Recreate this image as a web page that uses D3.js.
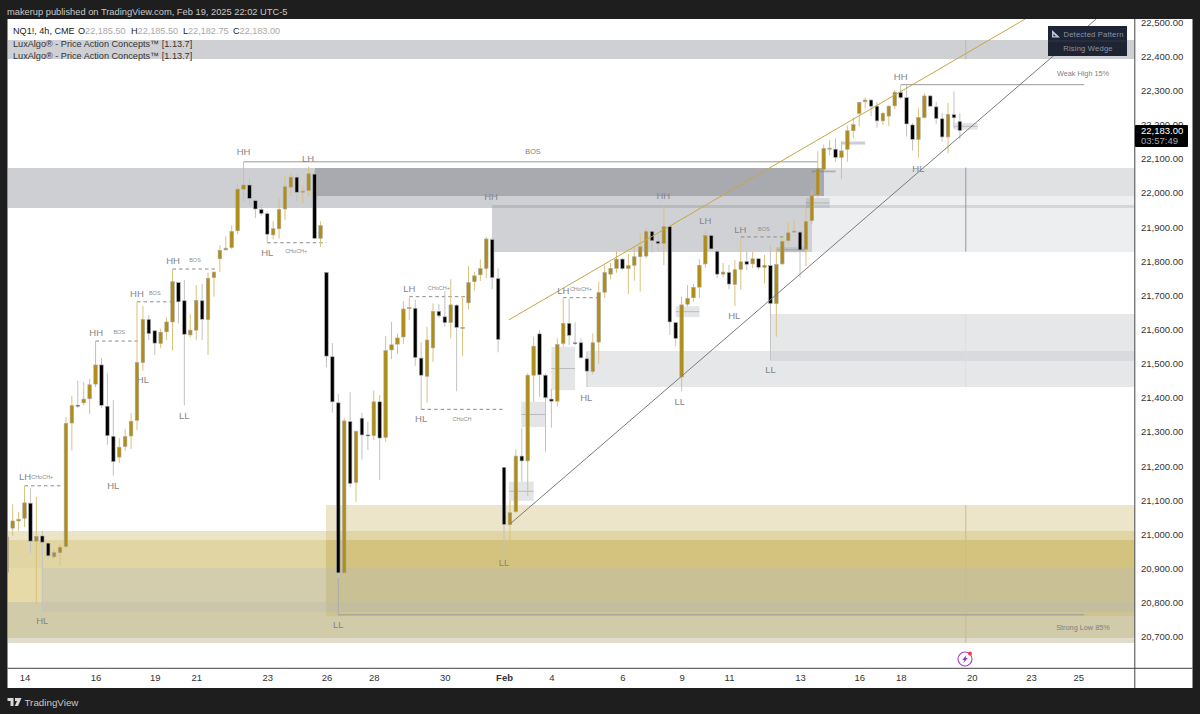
<!DOCTYPE html>
<html>
<head>
<meta charset="utf-8">
<style>
  html, body { margin: 0; padding: 0; background: #1e1e1e; }
  svg { display: block; font-family: "Liberation Sans", Arial, sans-serif; }
</style>
</head>
<body>
<div id="chart"></div>
<script src="https://cdn.jsdelivr.net/npm/d3@7"></script>
<script>
"use strict";

const WIDTH = 1200;
const HEIGHT = 714;
const PLOT_LEFT = 8;
const PLOT_RIGHT = 1134.5;
const PLOT_TOP = 19;
const PLOT_BOTTOM = 668;
const FRAME_RIGHT = 1192.5;
const FRAME_BOTTOM = 688;

// 4h candles
const opens = [
    20889,21018,21039,21047,21091,20980,20995,20974,20934,20946,
    20964,21326,21378,21385,21397,21440,21496,21375,21287,21226,
    21257,21288,21334,21503,21629,21596,21559,21593,21622,21737,
    21684,21584,21598,21684,21629,21752,21807,21833,21840,21889,
    22011,22023,21977,21951,21939,21877,21895,21953,22017,22046,
    22002,22007,22055,21867,21767,21520,21385,20887,21330,21152,
    21340,21291,21289,21388,21284,21540,21557,21578,21662,21662,
    21516,21463,21546,21653,21637,21620,21671,21604,21678,21740,
    21760,21779,21863,21749,21196,21028,21066,21229,21215,21466,
    21587,21466,21396,21390,21559,21618,21561,21561,21514,21477,
    21563,21709,21762,21779,21806,21778,21788,21813,21815,21887,
    21858,21852,21901,21620,21461,21674,21693,21724,21792,21875,
    21829,21762,21767,21732,21776,21799,21792,21807,21782,21787,
    21676,21792,21860,21885,21885,21835,21919,21994,22069,22129,
    22128,22104,22128,22182,22233,22267,22272,22254,22211,22225,
    22255,22294,22279,22199,22157,22221,22284,22252,22217,22164,
    22229,22209
];
const highs = [
    21013,21088,21065,21141,21135,21110,21010,20975,20954,20971,
    21343,21406,21450,21446,21455,21566,21517,21473,21393,21282,
    21308,21355,21681,21669,21642,21598,21602,21636,21777,21740,
    21745,21645,21730,21733,21767,21770,21847,21873,21905,22026,
    22091,22043,21982,21966,21945,21917,21983,22049,22056,22056,
    22021,22077,22067,21916,21768,21560,21411,21340,21416,21305,
    21356,21330,21421,21408,21581,21622,21588,21683,21693,21688,
    21563,21608,21676,21674,21713,21747,21674,21698,21786,21769,
    21805,21871,21871,21779,21197,21099,21249,21311,21472,21579,
    21598,21472,21426,21574,21691,21691,21621,21574,21535,21588,
    21740,21789,21795,21831,21810,21821,21842,21880,21896,21889,
    21876,21964,21903,21622,21696,21730,21733,21806,21889,21876,
    21832,21795,21789,21803,21867,21828,21828,21808,21818,21847,
    21842,21870,21913,21923,21889,21955,22008,22122,22142,22155,
    22160,22151,22197,22221,22267,22280,22274,22267,22238,22257,
    22301,22316,22316,22205,22248,22292,22287,22267,22233,22264,
    22297,22233
];
const lows = [
    20866,20996,21010,21021,20945,20791,20773,20930,20927,20908,
    20960,21245,21370,21378,21352,21431,21370,21262,21172,21209,
    21245,21250,21305,21479,21569,21525,21545,21569,21538,21618,
    21378,21577,21569,21569,21525,21696,21768,21834,21836,21879,
    21974,21964,21926,21933,21854,21864,21866,21920,21992,21974,
    21969,21989,21865,21842,21489,21356,20872,20876,21138,21095,
    21219,21247,21276,21159,21271,21513,21528,21557,21627,21493,
    21366,21385,21505,21633,21608,21574,21419,21522,21659,21713,
    21742,21750,21718,21533,20944,20978,21063,21154,21112,21388,
    21403,21242,21312,21374,21549,21554,21554,21515,21431,21469,
    21499,21692,21748,21766,21774,21704,21743,21711,21808,21825,
    21830,21789,21584,21551,21418,21667,21681,21692,21781,21833,
    21750,21752,21718,21669,21716,21774,21779,21776,21735,21510,
    21579,21789,21847,21883,21752,21786,21908,21987,22067,22110,
    22091,22041,22091,22160,22194,22248,22225,22191,22199,22196,
    22246,22274,22165,22124,22103,22218,22252,22202,22150,22116,
    22189,22157
];
const closes = [
    20992,21039,21044,21092,20980,20994,20977,20937,20946,20962,
    21325,21377,21375,21396,21438,21496,21378,21289,21213,21255,
    21286,21331,21503,21629,21588,21560,21592,21622,21740,21681,
    21586,21598,21685,21630,21750,21768,21832,21838,21887,22011,
    22023,21984,21953,21940,21879,21895,21951,22018,22046,22002,
    22005,22056,21867,21904,21522,21388,20887,21332,21149,21301,
    21291,21288,21388,21282,21538,21555,21575,21660,21664,21518,
    21466,21569,21653,21640,21620,21672,21606,21606,21737,21757,
    21778,21865,21752,21571,21029,21063,21229,21215,21466,21551,
    21467,21400,21390,21556,21618,21583,21559,21517,21478,21561,
    21708,21767,21779,21806,21778,21787,21813,21842,21887,21860,
    21852,21901,21622,21574,21672,21691,21723,21788,21875,21836,
    21762,21768,21733,21775,21798,21791,21807,21782,21788,21676,
    21790,21858,21883,21888,21833,21916,21992,22072,22130,22131,
    22104,22123,22182,22200,22265,22272,22254,22211,22233,22254,
    22295,22279,22202,22157,22221,22284,22254,22218,22164,22230,
    22220,22183
];

const priceTicks = [22500,22400,22300,22200,22100,22000,21900,21800,21700,21600,21500,21400,21300,21200,21100,21000,20900,20800,20700];
const timeTickBars = [3,15,25,32,44,54,62,74,84,92,104,114,122,134,144,151,163,173,181];
const timeTickLabels = ["14","16","19","21","23","26","28","30","Feb","4","6","9","11","13","16","18","20","23","25"];

// zones: [top price, bottom price, first bar, last bar]
const grayZones = [
    [22448,22391,0,192],[22074,21956,0,52],[22074,21990,52,138],[21990,21956,52,82],
    [21990,21964,82,136],[21964,21956,82,136],[21956,21828,82,136],[22074,21990,138,192],
    [21990,21964,136,192],[21964,21956,136,192],[21956,21828,136,192],[21645,21538,129,192],
    [21538,21509,129,192],[21538,21430,98,129],[21509,21430,129,192]
];
const grayZoneFills = [
    "#cfd0d4","#cecfd3","#a9aaaf","#cecfd3","#cfd0d4","#b9babe","#cfd1d5","#e0e1e3",
    "#eeeff1","#d5d6d9","#edeef0","#e6e7e9","#d9dade","#e6e7e9","#e6e7e9"
];
const goldZones = [
    [21009,20983,0,54],[20983,20900,0,54],[20900,20801,0,6],[20900,20801,6,54],
    [20801,20772,6,54],[20801,20695,0,6],[20772,20695,6,54],[20695,20682,0,192],
    [21085,21009,54,192],[21009,20983,54,192],[20983,20900,54,192],[20900,20801,54,192],
    [20801,20772,54,192],[20772,20762,54,192],[20762,20695,54,192]
];
const goldZoneFills = [
    "#ece4c6","#e1d6a3","#e6daa8","#d4cdad","#cbc5ab","#d1cba9","#d1cba9","#e0ddcd",
    "#ede5c9","#dfd5a5","#d3c37f","#cac095","#c4bd9e","#cfc394","#d1cba9"
];
const gapBoxes = [
    [21154,21098,84.8,89],[21388,21314,86.9,91],[21549,21422,92,96],[21668,21636,113,117],
    [21841,21826,130,135],[21985,21956,135,139],[22067,22059,136,140],[22152,22140,141,145],
    [22205,22185,160,164]
];

// levels: [price, first bar, last bar]
const dashedLevels = [
    [21142,3,9.4],[21566,15,22.5],[21681,22,28],[21777,28,35.5],[21854,44,54],
    [21696,68,77.8],[21366,70,84],[21693,94,100],[21871,124,131.5]
];
const solidLevels = [[22091,40,137],[22317,151,182],[20764,56,182]];
const wedgeUpper = [[84.8,21628],[172,22509]];
const wedgeLower = [[85,21030],[184,22509]];
const sessionBar = 162;
const sessionSpans = [[22448,22391],[22074,21828],[21645,21430],[21085,20682]];
const sessionColors = ["#b8b9bc","#96979b","#dcdde0","#c9bd8f"];

const swingTexts = ["HH","LH","HH","HH","HH","LH","HL","HL","HL","LL","HL","LL","LH","HL","HH","LH","HL","LL","LL","HH","LH","LH","HL","LL","HH","HL"];
const swingBars = [40,50.9,28.1,22,15.1,3.1,23,18,44,30,6,56,68,70,81.8,94,97.9,84,113.7,110.9,118,123.9,122.9,129,151,154];
const swingPrices = [22120,22102,21803,21706,21592,21168,21452,21144,21826,21349,20746,20737,21721,21338,21988,21715,21402,20916,21390,21991,21918,21894,21642,21484,22342,22072];

const tagTexts = ["BOS","BOS","BOS","CHoCH+","CHoCH+","CHoCH+","CHoCH","CHoCH+","BOS"];
const tagBars = [31.8,25,19,6,48.9,73,76.9,97,127.9];
const tagPrices = [21803,21706,21592,21168,21830,21721,21338,21718,21894];

const noteTexts = ["BOS","Weak High 15%","Strong Low 85%"];
const noteBars = [88.9,181.8,181.8];
const notePrices = [22122,22351,20728];

const lastPrice = 22183;
const lastCountdown = "03:57:49";
const ohlcLabels = ["O","H","L","C"];
const ohlcValues = ["22,185.50","22,185.50","22,182.75","22,183.00"];

const xScale = d3.scaleLinear().domain([0, 190]).range([6.75, 6.75 + 190 * 5.92]);
const yScale = d3.scaleLinear().domain([20700, 22500]).range([636.7, 22.2]);

const svg = d3.select("#chart").append("svg").attr("width", WIDTH).attr("height", HEIGHT);

svg.append("rect").attr("width", WIDTH).attr("height", HEIGHT).attr("fill", "#1e1e1e");
svg.append("rect")
    .attr("x", 7.5).attr("y", PLOT_TOP)
    .attr("width", FRAME_RIGHT - 7.5).attr("height", FRAME_BOTTOM - PLOT_TOP)
    .attr("fill", "#fff");

svg.append("clipPath").attr("id", "plot-clip").append("rect")
    .attr("x", PLOT_LEFT).attr("y", PLOT_TOP)
    .attr("width", PLOT_RIGHT - PLOT_LEFT).attr("height", PLOT_BOTTOM - PLOT_TOP);

const plot = svg.append("g").attr("clip-path", "url(#plot-clip)");

renderZones(plot, grayZones, grayZoneFills);
renderZones(plot, goldZones, goldZoneFills);
renderSessionLines(plot);
renderGapBoxes(plot);
renderLevels(plot);
renderCandles(plot);
renderWedge(plot);
renderLabels(plot);
renderAxes(svg);
renderLastPrice(svg);
renderPatternPanel(svg);
renderHeader(svg);
renderFooter(svg);

function renderZones(container, zones, fills) {
    container.append("g").selectAll("rect").data(zones).join("rect")
        .attr("x", d => xScale(d[2]))
        .attr("y", d => yScale(d[0]))
        .attr("width", d => xScale(d[3]) - xScale(d[2]))
        .attr("height", d => yScale(d[1]) - yScale(d[0]))
        .attr("shape-rendering", "crispEdges")
        .attr("fill", (_, i) => fills[i]);
}

function renderSessionLines(container) {
    container.append("g").selectAll("line").data(sessionSpans).join("line")
        .attr("x1", xScale(sessionBar)).attr("x2", xScale(sessionBar))
        .attr("y1", d => yScale(d[0])).attr("y2", d => yScale(d[1]))
        .attr("stroke", (_, i) => sessionColors[i])
        .attr("stroke-width", 1);
}

function renderGapBoxes(container) {
    const boxes = container.append("g").selectAll("g").data(gapBoxes).join("g");

    boxes.append("rect")
        .attr("x", d => xScale(d[2]))
        .attr("y", d => yScale(d[0]))
        .attr("width", d => xScale(d[3]) - xScale(d[2]))
        .attr("height", d => yScale(d[1]) - yScale(d[0]))
        .attr("fill", "#787b86")
        .attr("fill-opacity", 0.2);

    boxes.append("line")
        .attr("x1", d => xScale(d[2])).attr("x2", d => xScale(d[3]))
        .attr("y1", d => yScale((d[0] + d[1]) / 2)).attr("y2", d => yScale((d[0] + d[1]) / 2))
        .attr("stroke", "#787b86")
        .attr("stroke-opacity", 0.4);
}

function renderLevels(container) {
    container.append("g").selectAll("line").data(dashedLevels).join("line")
        .attr("x1", d => xScale(d[1])).attr("x2", d => xScale(d[2]))
        .attr("y1", d => yScale(d[0])).attr("y2", d => yScale(d[0]))
        .attr("stroke", "#8a8a8a")
        .attr("stroke-dasharray", "3.5 3");

    container.append("g").selectAll("line").data(solidLevels).join("line")
        .attr("x1", d => xScale(d[1])).attr("x2", d => xScale(d[2]))
        .attr("y1", d => yScale(d[0])).attr("y2", d => yScale(d[0]))
        .attr("stroke", "#9a9a9a");

    // leg from the strong low candle down to its level
    container.append("line")
        .attr("x1", xScale(56)).attr("x2", xScale(56))
        .attr("y1", yScale(lows[56])).attr("y2", yScale(solidLevels[2][0]))
        .attr("stroke", "#aaa");
}

function renderCandles(container) {
    const bodyWidth = (xScale(1) - xScale(0)) * 0.6;
    const isUp = i => closes[i] >= opens[i];

    const candles = container.append("g").selectAll("g").data(opens).join("g");

    candles.append("line")
        .attr("x1", (_, i) => xScale(i)).attr("x2", (_, i) => xScale(i))
        .attr("y1", (_, i) => yScale(highs[i])).attr("y2", (_, i) => yScale(lows[i]))
        .attr("stroke", (_, i) => (isUp(i) ? "#d9c27c" : "#c2c2c2"))
        .attr("stroke-width", 1);

    candles.append("rect")
        .attr("x", (_, i) => xScale(i) - bodyWidth / 2)
        .attr("y", (_, i) => yScale(Math.max(opens[i], closes[i])))
        .attr("width", bodyWidth)
        .attr("height", (_, i) => Math.max(yScale(Math.min(opens[i], closes[i])) - yScale(Math.max(opens[i], closes[i])), 1))
        .attr("fill", (_, i) => (isUp(i) ? "#b08d14" : "#000"))
        .attr("stroke", "#a9a9a9")
        .attr("stroke-width", 0.6);
}

function renderWedge(container) {
    const line = d3.line().x(d => xScale(d[0])).y(d => yScale(d[1]));

    container.append("path").attr("d", line(wedgeUpper))
        .attr("fill", "none").attr("stroke", "#c7a643").attr("stroke-width", 1);
    container.append("path").attr("d", line(wedgeLower))
        .attr("fill", "none").attr("stroke", "#7a7a7a").attr("stroke-width", 1);
}

function writeLabels(container, texts, bars, prices, fontSize, color) {
    container.append("g").selectAll("text").data(texts).join("text")
        .attr("x", (_, i) => xScale(bars[i]))
        .attr("y", (_, i) => yScale(prices[i]))
        .attr("text-anchor", "middle")
        .attr("dominant-baseline", "central")
        .attr("font-size", fontSize)
        .attr("fill", color)
        .text(d => d);
}

function renderLabels(container) {
    writeLabels(container, swingTexts, swingBars, swingPrices, 9.5, "#868686");
    writeLabels(container, tagTexts, tagBars, tagPrices, 5.5, "#8e8e8e");
    writeLabels(container, noteTexts, noteBars, notePrices, 7.3, "#7f7f7f");
}

function renderAxes(root) {
    const priceAxis = d3.axisRight(yScale)
        .tickValues(priceTicks)
        .tickSize(0)
        .tickPadding(6.5)
        .tickFormat(d3.format(",.2f"));

    const priceGroup = root.append("g")
        .attr("transform", `translate(${PLOT_RIGHT}, 0)`)
        .call(priceAxis);
    priceGroup.select(".domain").remove();
    priceGroup.selectAll("text")
        .attr("font-size", 9.5)
        .attr("font-family", "'Liberation Sans', Arial, sans-serif")
        .attr("fill", "#333");

    const timeAxis = d3.axisBottom(xScale)
        .tickValues(timeTickBars)
        .tickSize(0)
        .tickPadding(6)
        .tickFormat((_, i) => timeTickLabels[i]);

    const timeGroup = root.append("g")
        .attr("transform", `translate(0, ${PLOT_BOTTOM})`)
        .call(timeAxis);
    timeGroup.select(".domain").remove();
    timeGroup.selectAll("text")
        .attr("font-size", 9.5)
        .attr("font-family", "'Liberation Sans', Arial, sans-serif")
        .attr("font-weight", d => (d === 84 ? "bold" : "normal"))
        .attr("fill", "#333");

    root.append("line")
        .attr("x1", 7.5).attr("x2", FRAME_RIGHT)
        .attr("y1", PLOT_BOTTOM + 0.3).attr("y2", PLOT_BOTTOM + 0.3)
        .attr("stroke", "#444");
    root.append("line")
        .attr("x1", PLOT_RIGHT + 0.3).attr("x2", PLOT_RIGHT + 0.3)
        .attr("y1", PLOT_TOP).attr("y2", FRAME_BOTTOM)
        .attr("stroke", "#444");

    // flash icon on the time scale edge
    const icon = root.append("g").attr("transform", "translate(965, 659)");
    icon.append("circle").attr("r", 7).attr("fill", "#fff").attr("stroke", "#a83fc8").attr("stroke-width", 1.1);
    icon.append("path").attr("d", "M1.6,-4 L-2.8,1 L-0.6,1 L-1.6,4 L2.8,-1 L0.6,-1 Z").attr("fill", "#9a2fbd");
    icon.append("circle").attr("cx", 5).attr("cy", -5.5).attr("r", 1.9).attr("fill", "#f23645");
}

function renderLastPrice(root) {
    const y = yScale(lastPrice);

    root.append("rect")
        .attr("x", PLOT_RIGHT + 0.5).attr("y", y - 5.5)
        .attr("width", 53).attr("height", 22)
        .attr("rx", 1)
        .attr("fill", "#000");
    root.append("text")
        .attr("x", PLOT_RIGHT + 6.5).attr("y", y)
        .attr("dominant-baseline", "central")
        .attr("font-size", 9.5).attr("fill", "#fff")
        .text(d3.format(",.2f")(lastPrice));
    root.append("text")
        .attr("x", PLOT_RIGHT + 6.5).attr("y", y + 10.5)
        .attr("dominant-baseline", "central")
        .attr("font-size", 9.5).attr("fill", "#a8a8a8")
        .text(lastCountdown);
}

function renderPatternPanel(root) {
    const panel = root.append("g").attr("transform", "translate(1048, 26)");

    panel.append("rect").attr("width", 79).attr("height", 30).attr("fill", "#1e2433");
    panel.append("line").attr("x1", 0).attr("x2", 79).attr("y1", 15).attr("y2", 15).attr("stroke", "#2f3648");
    panel.append("path")
        .attr("d", "M4,4 L12,11.5 L4,11.5 Z M5.5,8 L5.5,10.3 L8,10.3 Z")
        .attr("fill", "#b4c8dc").attr("fill-rule", "evenodd");
    panel.append("text")
        .attr("x", 15.5).attr("y", 8)
        .attr("dominant-baseline", "central")
        .attr("font-size", 7.6).attr("letter-spacing", 0.2).attr("fill", "#8c94a6")
        .text("Detected Pattern");
    panel.append("text")
        .attr("x", 40).attr("y", 22.5)
        .attr("text-anchor", "middle").attr("dominant-baseline", "central")
        .attr("font-size", 7.6).attr("letter-spacing", 0.2).attr("fill", "#8c94a6")
        .text("Rising Wedge");
}

function renderHeader(root) {
    root.append("text")
        .attr("x", 7).attr("y", 11.5)
        .attr("dominant-baseline", "central")
        .attr("font-size", 9.3).attr("fill", "#c8c8c8")
        .text("makerup published on TradingView.com, Feb 19, 2025 22:02 UTC-5");

    root.append("text")
        .attr("x", 13).attr("y", 31)
        .attr("dominant-baseline", "central")
        .attr("font-size", 9.1).attr("fill", "#222")
        .text("NQ1!, 4h, CME");

    const ohlcX = [78, 131, 183, 233];
    ohlcLabels.forEach((label, i) => {
        const entry = root.append("text")
            .attr("x", ohlcX[i]).attr("y", 31)
            .attr("dominant-baseline", "central")
            .attr("font-size", 9.1);
        entry.append("tspan").attr("fill", "#222").text(label);
        entry.append("tspan").attr("fill", "#a9a9a9").text(ohlcValues[i]);
    });

    [44, 56].forEach(y => {
        root.append("text")
            .attr("x", 13).attr("y", y)
            .attr("dominant-baseline", "central")
            .attr("font-size", 9.15).attr("fill", "#333")
            .text("LuxAlgo® - Price Action Concepts™ [1.13.7]");
    });
}

function renderFooter(root) {
    root.append("path")
        .attr("d", "M7.5,698 H13.5 V706 H10.5 V701 H7.5 Z M15,698 H21.5 L18,706 H14.8 L17,701 H15 Z")
        .attr("fill", "#d8d8d8");
    root.append("text")
        .attr("x", 24.5).attr("y", 702)
        .attr("dominant-baseline", "central")
        .attr("font-size", 9.8).attr("fill", "#c8c8c8")
        .text("TradingView");
}
</script>
</body>
</html>
